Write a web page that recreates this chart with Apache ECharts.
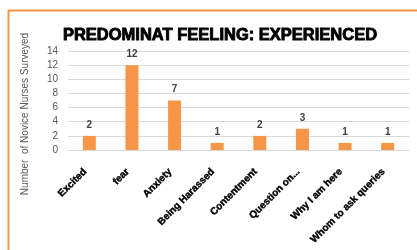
<!DOCTYPE html>
<html><head><meta charset="utf-8">
<script src="https://cdn.jsdelivr.net/npm/echarts@6/dist/echarts.min.js"></script>
<style>html,body{margin:0;padding:0;background:#fff}#c{width:417px;height:250px}</style>
</head><body><div id="c"></div>
<script>
const categories = ['Excited','fear','Anxiety','Being Harassed','Contentment','Question on...','Why I am here','Whom to ask queries'];
const values = [2,12,7,1,2,3,1,1];
const yTicks = [0,2,4,6,8,10,12,14];
const yName = 'Number  of Novice Nurses Surveyed';
const chart = echarts.init(document.getElementById('c'));
chart.setOption({
  animation:false,
  graphic:[
    {type:'rect',shape:{x:8.5,y:10.5,width:430,height:260},style:{fill:'none',stroke:'#F79646',lineWidth:2}},
    {type:'text',x:25,y:114,rotation:Math.PI/2,style:{text:yName,textAlign:'center',textVerticalAlign:'middle',
      font:'10px "Liberation Sans"',fill:'#595959'}}
  ],
  title:{text:'PREDOMINAT FEELING: EXPERIENCED',left:215,top:22,textAlign:'center',
    textStyle:{fontFamily:'Liberation Sans',fontWeight:'bold',fontSize:16.5,color:'#000',textBorderColor:'#000',textBorderWidth:0.9}},
  grid:{left:68,right:8,top:51,bottom:100,containLabel:false},
  xAxis:{type:'category',data:categories,
    axisLine:{lineStyle:{color:'#D9D9D9'}},axisTick:{show:false},
    axisLabel:{rotate:45,interval:0,fontFamily:'Liberation Sans',fontWeight:'bold',fontSize:10,color:'#000',margin:16,
      padding:[0,6,0,0],textBorderColor:'#000',textBorderWidth:0.4}},
  yAxis:{type:'value',min:yTicks[0],max:yTicks[yTicks.length-1],interval:2,
    axisLine:{show:false},axisTick:{show:false},
    axisLabel:{fontFamily:'Liberation Sans',fontSize:10,color:'#595959',margin:10},
    splitLine:{lineStyle:{color:'#D9D9D9'}}},
  series:[{type:'bar',data:values,barWidth:13,itemStyle:{color:'#F79646'},
    label:{show:true,position:'top',distance:6,fontFamily:'Liberation Sans',fontSize:10,fontWeight:'bold',color:'#404040'}}]
});
</script></body></html>
